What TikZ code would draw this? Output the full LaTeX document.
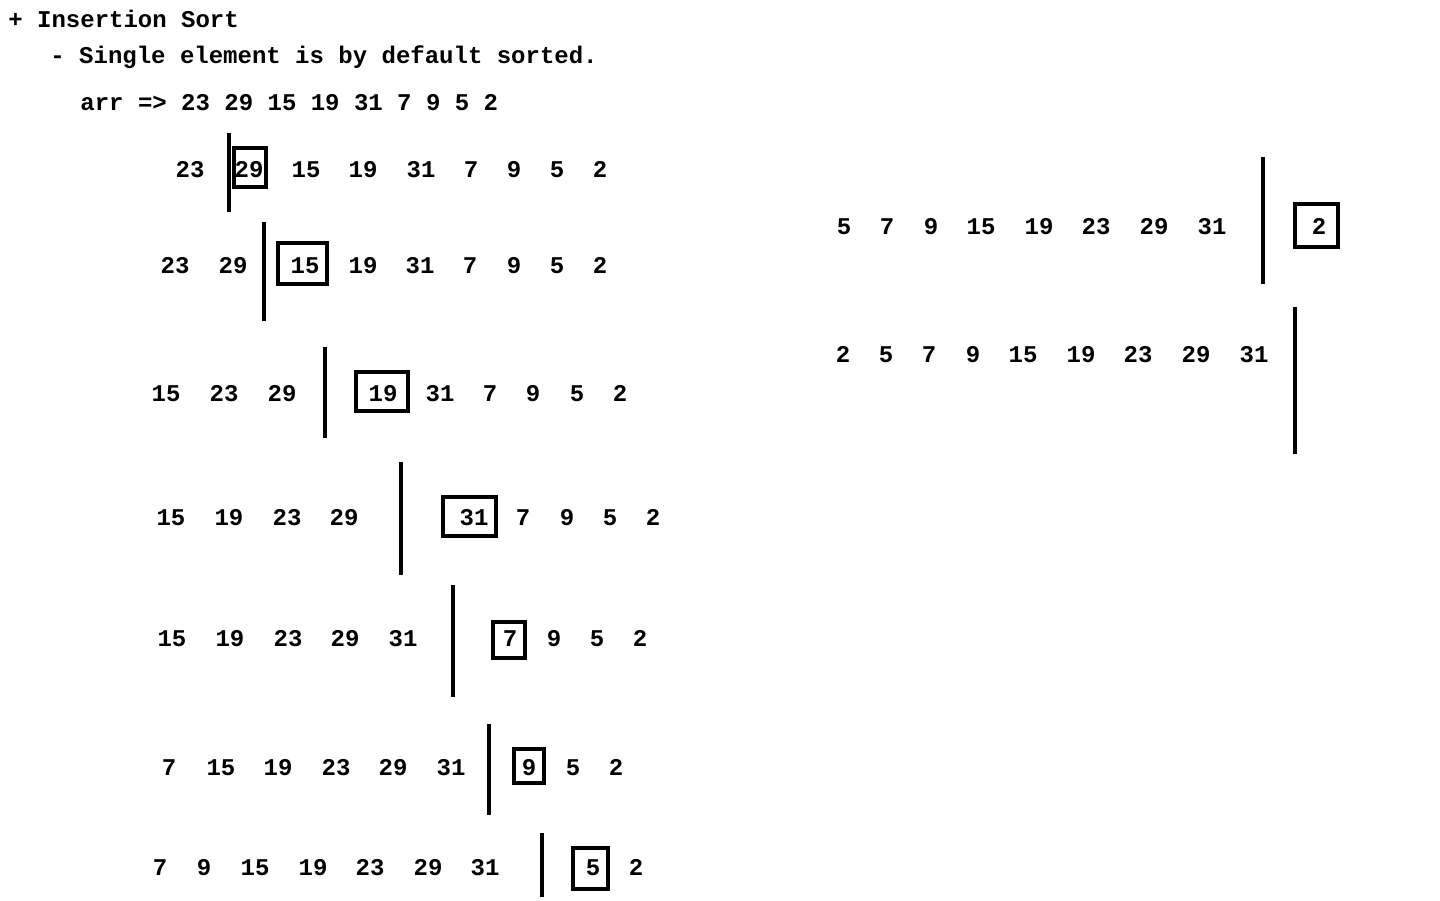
\documentclass[tikz,border=0pt]{standalone}
\usepackage{fontspec}
\setmonofont{Liberation Mono}
\begin{document}
\begin{tikzpicture}[x=0.5pt,y=-0.5pt,
  num/.style={font=\ttfamily\bfseries\fontsize{12}{14}\selectfont, inner sep=0pt, anchor=base, yshift=-3.75pt},
  txt/.style={font=\ttfamily\bfseries\fontsize{12}{14}\selectfont, inner sep=0pt, anchor=base west},
  bar/.style={line width=2pt},
  hl/.style={line width=1.7pt}]
\useasboundingbox[fill=white] (0,0) rectangle (1440,900);
% header
\node[txt] (h1) at (8,27) {+ Insertion Sort};
\node[txt] (h2) at (50,63) {- Single element is by default sorted.};
\node[txt] (h3) at (80,110) {arr => 23 29 15 19 31 7 9 5 2};
% row 1
\foreach \x/\t [count=\i] in {190/23,249/29,306/15,363/19,421/31,471/7,514/9,557/5,600/2}
  \node[num] (a\i) at (\x,170) {\t};
\coordinate (a1t) at (229,133); \coordinate (a1b) at (229,212);
\draw[bar] (a1t) -- (a1b);
\draw[hl] (234,148) rectangle (266,187);
% row 2
\foreach \x/\t [count=\i] in {175/23,233/29,305/15,363/19,420/31,470/7,514/9,557/5,600/2}
  \node[num] (b\i) at (\x,266) {\t};
\coordinate (b1t) at (264,222); \coordinate (b1b) at (264,321);
\draw[bar] (b1t) -- (b1b);
\draw[hl] (278,243) rectangle (327,284);
% row 3
\foreach \x/\t [count=\i] in {166/15,224/23,282/29,383/19,440/31,490/7,533/9,577/5,620/2}
  \node[num] (c\i) at (\x,394) {\t};
\coordinate (c1t) at (325,347); \coordinate (c1b) at (325,438);
\draw[bar] (c1t) -- (c1b);
\draw[hl] (356,372) rectangle (408,411);
% row 4
\foreach \x/\t [count=\i] in {171/15,229/19,287/23,344/29,474/31,523/7,567/9,610/5,653/2}
  \node[num] (d\i) at (\x,518) {\t};
\coordinate (d1t) at (401,462); \coordinate (d1b) at (401,575);
\draw[bar] (d1t) -- (d1b);
\draw[hl] (443,497) rectangle (496,536);
% row 5
\foreach \x/\t [count=\i] in {172/15,230/19,288/23,345/29,403/31,510/7,554/9,597/5,640/2}
  \node[num] (e\i) at (\x,639) {\t};
\coordinate (e1t) at (453,585); \coordinate (e1b) at (453,697);
\draw[bar] (e1t) -- (e1b);
\draw[hl] (493,622) rectangle (525,658);
% row 6
\foreach \x/\t [count=\i] in {169/7,221/15,278/19,336/23,393/29,451/31,529/9,573/5,616/2}
  \node[num] (f\i) at (\x,768) {\t};
\coordinate (f1t) at (489,724); \coordinate (f1b) at (489,815);
\draw[bar] (f1t) -- (f1b);
\draw[hl] (514,749) rectangle (544,783);
% row 7
\foreach \x/\t [count=\i] in {160/7,204/9,255/15,313/19,370/23,428/29,485/31,593/5,636/2}
  \node[num] (g\i) at (\x,868) {\t};
\coordinate (g1t) at (542,833); \coordinate (g1b) at (542,897);
\draw[bar] (g1t) -- (g1b);
\draw[hl] (573,848) rectangle (608,889);
% right row 1
\foreach \x/\t [count=\i] in {844/5,887/7,931/9,981/15,1039/19,1096/23,1154/29,1212/31,1319/2}
  \node[num] (p\i) at (\x,227) {\t};
\coordinate (p1t) at (1263,157); \coordinate (p1b) at (1263,284);
\draw[bar] (p1t) -- (p1b);
\draw[hl] (1295,204) rectangle (1338,247);
% right row 2
\foreach \x/\t [count=\i] in {843/2,886/5,929/7,973/9,1023/15,1081/19,1138/23,1196/29,1254/31}
  \node[num] (q\i) at (\x,355) {\t};
\coordinate (q1t) at (1295,307); \coordinate (q1b) at (1295,454);
\draw[bar] (q1t) -- (q1b);
\end{tikzpicture}
\end{document}
